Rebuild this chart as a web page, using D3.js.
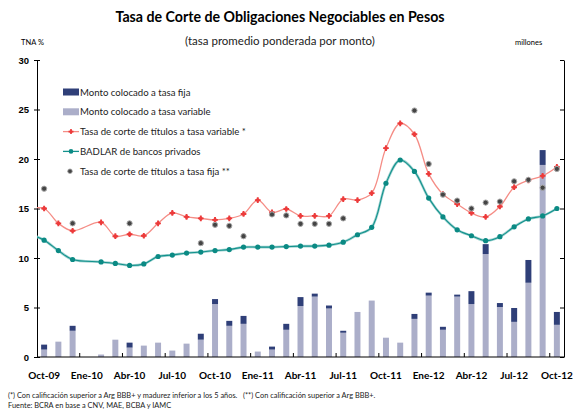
<!DOCTYPE html>
<html>
<head>
<meta charset="utf-8">
<script src="https://cdn.jsdelivr.net/npm/d3@7"></script>
<style>
  body { margin: 0; background: #fff; }
  svg { display: block; font-family: Lato, "Open Sans", sans-serif; }
</style>
</head>
<body>
<div id="chart"></div>
<script>
// months shown on the x axis (one band per month)
var months = ["Oct-09","Nov-09","Dic-09","Ene-10","Feb-10","Mar-10","Abr-10","May-10","Jun-10",
  "Jul-10","Ago-10","Sep-10","Oct-10","Nov-10","Dic-10","Ene-11","Feb-11","Mar-11","Abr-11",
  "May-11","Jun-11","Jul-11","Ago-11","Sep-11","Oct-11","Nov-11","Dic-11","Ene-12","Feb-12",
  "Mar-12","Abr-12","May-12","Jun-12","Jul-12","Ago-12","Sep-12","Oct-12"];
var tickLabels = ["Oct-09","Ene-10","Abr-10","Jul-10","Oct-10","Ene-11","Abr-11","Jul-11",
  "Oct-11","Ene-12","Abr-12","Jul-12","Oct-12"];
var yTicks = [0, 5, 10, 15, 20, 25, 30];

// bars (stacked, variable at the bottom)
var montoVariable = [0.75,1.55,2.65,0,0.25,1.75,0.95,1.15,1.45,0.65,1.35,1.75,5.35,3.15,3.35,0.55,
  0.75,2.75,5.15,6.1,4.9,2.45,4.55,5.7,1.95,1.45,3.85,6.2,2.75,6.1,5.35,10.4,5.05,3.55,7.5,19.4,3.25];
var montoFija = [0.5,0,0.5,0,0,0,0.5,0,0,0,0,0.6,0.5,0.5,0.8,0,0.3,0.6,0.9,0.3,0.3,0.2,0,0,0,0,
  0.5,0.3,0.3,0.2,1.3,1.0,0.4,1.4,2.3,1.5,1.3];

// rates (TNA %)
var tasaVariable = [15.0,13.5,12.75,null,13.6,12.2,12.4,12.25,13.5,14.55,14.15,14.0,13.85,14.0,14.45,
  15.85,14.6,14.95,14.25,14.25,14.25,15.95,15.85,16.55,21.1,23.6,22.5,18.5,16.45,15.45,14.55,14.15,
  15.2,17.15,17.85,18.3,19.2];
var badlar = [11.8,10.75,9.85,null,9.6,9.45,9.25,9.4,10.15,10.3,10.5,10.6,10.75,10.85,11.1,11.1,11.1,
  11.15,11.2,11.2,11.3,11.6,12.35,13.1,17.55,19.9,18.75,16.05,14.15,12.85,12.25,11.75,12.15,13.15,
  13.95,14.25,15.0];
var tasaFija = [17.0,null,13.5,null,null,null,13.5,null,null,null,null,11.5,13.35,13.25,12.2,null,14.4,
  14.3,13.45,13.45,13.45,14.0,null,null,null,null,24.9,19.5,16.4,15.8,15.0,15.6,15.7,17.75,17.9,17.1,19.0];
// previous month (Sep-09), only the line enters from the axis
var prevVariable = 15.0, prevBadlar = 12.4;

var W = 574, H = 410;
var margin = {top: 60, right: 10, bottom: 53, left: 37},
    width = W - margin.left - margin.right,
    height = H - margin.top - margin.bottom;

var svg = d3.select("#chart").append("svg")
    .attr("width", W).attr("height", H);

var g = svg.append("g")
    .attr("transform", "translate(" + margin.left + "," + margin.top + ")");

var x = d3.scaleBand().domain(months).range([0, width]).paddingInner(0.58).paddingOuter(0.29);
var y = d3.scaleLinear().domain([0, 30]).range([height, 0]);
var cx = function(i) { return x(months[i]) + x.bandwidth() / 2; };

// clip for the lines
g.append("clipPath").attr("id", "plot")
  .append("rect").attr("width", width).attr("height", height);

// stacked bars
var rows = months.map(function(m, i) { return {m: m, variable: montoVariable[i], fija: montoFija[i]}; });
var stack = d3.stack().keys(["variable", "fija"])(rows);
var barColor = {variable: "#abaec9", fija: "#2f3f78"};
g.selectAll("g.layer").data(stack).enter().append("g")
    .attr("fill", function(d) { return barColor[d.key]; })
  .selectAll("rect").data(function(d) { return d; }).enter().append("rect")
    .attr("x", function(d) { return x(d.data.m); })
    .attr("width", x.bandwidth())
    .attr("y", function(d) { return y(d[1]); })
    .attr("height", function(d) { return y(d[0]) - y(d[1]); });

// axes
var leftIn = d3.axisLeft(y).tickValues(yTicks).tickSizeInner(-3).tickSizeOuter(0).tickPadding(8);
var leftOut = d3.axisLeft(y).tickValues(yTicks).tickSize(3).tickFormat("");
g.append("g").call(leftOut).call(function(s) { s.select(".domain").remove(); });
g.append("g").call(leftIn)
  .call(function(s) {
    s.selectAll("text").attr("font-size", 9.5).attr("font-weight", "bold").attr("fill", "#000");
  });
g.append("g").attr("transform", "translate(" + width + ",0)")
  .call(d3.axisLeft(y).tickValues(yTicks).tickSizeInner(4).tickSizeOuter(0).tickFormat(""));

var xAxis = g.append("g").attr("transform", "translate(0," + height + ")");
xAxis.append("line").attr("x1", 0).attr("x2", width).attr("stroke", "#000");
xAxis.selectAll("line.tk").data(months.filter(function(m, i) { return i > 0 && i % 3 === 0; }))
  .enter().append("line").attr("class", "tk")
    .attr("x1", function(d) { return x(d) - x.step() * x.paddingInner() / 2; })
    .attr("x2", function(d) { return x(d) - x.step() * x.paddingInner() / 2; })
    .attr("y1", 0).attr("y2", -4).attr("stroke", "#000");
xAxis.selectAll("text").data(tickLabels).enter().append("text")
    .attr("x", function(d) { return x(d) + x.bandwidth() / 2; })
    .attr("y", 22)
    .attr("text-anchor", "middle")
    .attr("font-size", 10).attr("font-weight", "bold")
    .text(function(d) { return d; });

// lines
function seriesPoints(vals, prev) {
  var pts = [{x: cx(0) - x.step(), y: prev}];
  vals.forEach(function(v, i) { if (v !== null) pts.push({x: cx(i), y: v}); });
  return pts;
}
var line = d3.line().curve(d3.curveCatmullRom.alpha(0.5))
  .x(function(d) { return d.x; }).y(function(d) { return y(d.y); });

var lines = g.append("g").attr("clip-path", "url(#plot)");
var badPts = seriesPoints(badlar, prevBadlar);
lines.append("path").datum(badPts).attr("fill", "none")
  .attr("stroke", "#9ed2d0").attr("stroke-width", 2.6).attr("d", line);
lines.append("path").datum(badPts).attr("fill", "none")
  .attr("stroke", "#13928d").attr("stroke-width", 1.1).attr("d", line);
var varPts = seriesPoints(tasaVariable, prevVariable);
lines.append("path").datum(varPts).attr("fill", "none")
  .attr("stroke", "#f58d86").attr("stroke-width", 1.3).attr("d", line);

g.selectAll("circle.bad").data(badPts.slice(1)).enter().append("circle").attr("class", "bad")
  .attr("cx", function(d) { return d.x; }).attr("cy", function(d) { return y(d.y); })
  .attr("r", 2.6).attr("fill", "#0b8a84");
var varMarks = g.selectAll("g.var").data(varPts.slice(1)).enter().append("g").attr("class", "var")
  .attr("transform", function(d) { return "translate(" + d.x + "," + y(d.y) + ")"; })
  .attr("fill", "#ec3b3b");
varMarks.append("path").attr("d", d3.symbol().type(d3.symbolCross).size(18));
varMarks.append("circle").attr("r", 1.9);

var fijaPts = [];
tasaFija.forEach(function(v, i) { if (v !== null) fijaPts.push({x: cx(i), y: v}); });
g.selectAll("circle.fija").data(fijaPts).enter().append("circle").attr("class", "fija")
  .attr("cx", function(d) { return d.x; }).attr("cy", function(d) { return y(d.y); })
  .attr("r", 2.6).attr("fill", "#444").attr("stroke", "#a8a8a8").attr("stroke-width", 1);

// legend
var legend = svg.append("g").attr("transform", "translate(63,92)");
var items = ["Monto colocado a tasa fija", "Monto colocado a tasa variable",
  "Tasa de corte de títulos a tasa variable *", "BADLAR de bancos privados",
  "Tasa de corte de títulos a tasa fija **"];
items.forEach(function(t, i) {
  var row = legend.append("g").attr("transform", "translate(0," + (i * 19.8) + ")");
  if (i < 2) {
    row.append("rect").attr("x", 0).attr("y", -3.5).attr("width", 16).attr("height", 7)
      .attr("fill", i === 0 ? barColor.fija : barColor.variable);
  } else if (i === 2) {
    row.append("line").attr("x1", 0).attr("x2", 16).attr("stroke", "#f58d86").attr("stroke-width", 1.3);
    row.append("path").attr("transform", "translate(8,0)")
      .attr("d", d3.symbol().type(d3.symbolCross).size(14)).attr("fill", "#ec3b3b");
    row.append("circle").attr("cx", 8).attr("r", 1.6).attr("fill", "#ec3b3b");
  } else if (i === 3) {
    row.append("line").attr("x1", 0).attr("x2", 16).attr("stroke", "#13928d").attr("stroke-width", 1.3);
    row.append("circle").attr("cx", 8).attr("r", 2.3).attr("fill", "#0b8a84");
  } else {
    row.append("circle").attr("cx", 7).attr("r", 2.3).attr("fill", "#444")
      .attr("stroke", "#a8a8a8").attr("stroke-width", 0.8);
  }
  row.append("text").attr("x", 17).attr("y", 3.5).attr("font-size", 9.6).attr("fill", "#222").text(t);
});

// titles
svg.append("text").attr("x", 280).attr("y", 22).attr("text-anchor", "middle")
  .attr("font-size", 14.2).attr("font-weight", "bold")
  .text("Tasa de Corte de Obligaciones Negociables en Pesos");
svg.append("text").attr("x", 280).attr("y", 45).attr("text-anchor", "middle")
  .attr("font-size", 11.5).attr("fill", "#222")
  .text("(tasa promedio ponderada por monto)");
svg.append("text").attr("x", 21).attr("y", 45).attr("font-size", 7.5).text("TNA %");
svg.append("text").attr("x", 515).attr("y", 45).attr("font-size", 7.5).text("millones");

// footnotes
svg.append("text").attr("x", 8).attr("y", 398).attr("font-size", 7.4).attr("fill", "#222")
  .attr("xml:space", "preserve")
  .text("(*) Con calificación superior a Arg BBB+ y madurez inferior a los 5 años.   (**) Con calificación superior a Arg BBB+.");
svg.append("text").attr("x", 8).attr("y", 408).attr("font-size", 7.4).attr("fill", "#222")
  .text("Fuente: BCRA en base a CNV, MAE, BCBA y IAMC");
</script>
</body>
</html>
